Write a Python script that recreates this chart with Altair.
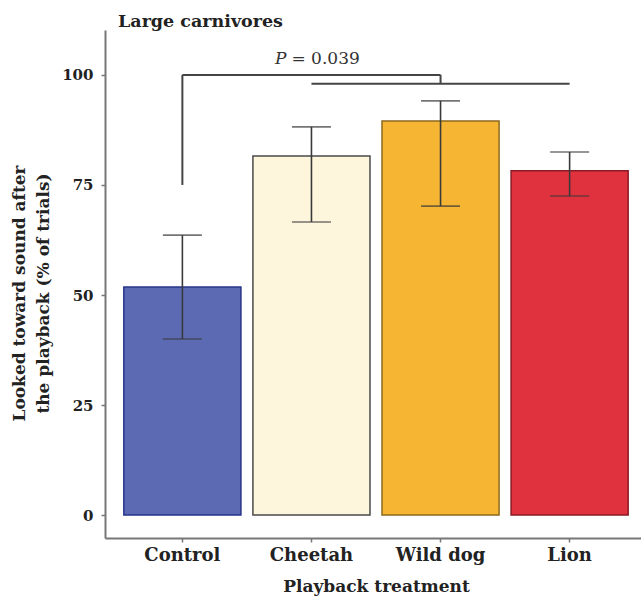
import altair as alt
import pandas as pd

treatments = ["Control", "Cheetah", "Wild dog", "Lion"]
means = [51.8, 81.6, 89.5, 78.2]
lower = [40.0, 66.6, 70.2, 72.5]
upper = [63.6, 88.2, 94.1, 82.5]
fills = ["#5b6ab3", "#fdf6dc", "#f6b634", "#e0313f"]
strokes = ["#27348a", "#4a4a4a", "#8c6a1c", "#8a1a24"]

# significance bracket segments
br_x = ["Control", "Control", "Wild dog", "Cheetah"]
br_x2 = ["Control", "Wild dog", "Wild dog", "Lion"]
br_y = [75, 100, 100, 98]
br_y2 = [100, 100, 98, 98]

p_label_x = ["Cheetah"]
p_label_y = [102.5]

FONT = "DejaVu Serif"

df = pd.DataFrame({"treatment": treatments, "mean": means, "lower": lower, "upper": upper})
br = pd.DataFrame({"x": br_x, "x2": br_x2, "y": br_y, "y2": br_y2})
pt = pd.DataFrame({"x": p_label_x, "y": p_label_y})

xscale = alt.Scale(domain=treatments, paddingInner=0.093, paddingOuter=0.146, range=[0, 542])
yscale = alt.Scale(domain=[-5.2, 110.2], nice=False, zero=False)

xaxis = alt.Axis(
    title="Playback treatment", labelAngle=0, labelFont=FONT, labelFontSize=18,
    labelFontWeight="bold", labelColor="#222", labelPadding=4,
    titleFont=FONT, titleFontSize=17, titleFontWeight="bold", titleColor="#222",
    titlePadding=14, tickColor="#777", tickSize=4, tickWidth=1.5,
    domainColor="#777", domainWidth=2,
)
yaxis = alt.Axis(
    title=["Looked toward sound after", "the playback (% of trials)"],
    values=[0, 25, 50, 75, 100], labelFont=FONT, labelFontSize=15,
    labelFontWeight="bold", labelColor="#222", labelPadding=8,
    titleFont=FONT, titleFontSize=17, titleFontWeight="bold", titleColor="#222",
    titleLineHeight=24, titlePadding=9, titleY=263, tickColor="#777", tickSize=4,
    tickWidth=1.5, domainColor="#777", domainWidth=2, grid=False,
)

base = alt.Chart(df)

bars = base.mark_bar(strokeWidth=1.5).encode(
    x=alt.X("treatment:N", scale=xscale, axis=xaxis, sort=treatments),
    y=alt.Y("mean:Q", scale=yscale, axis=yaxis),
    y2=alt.datum(0),
    color=alt.Color("treatment:N", scale=alt.Scale(domain=treatments, range=fills), legend=None),
    stroke=alt.Stroke("treatment:N", scale=alt.Scale(domain=treatments, range=strokes), legend=None),
)

err = base.mark_rule(color="#3a3a3a", strokeWidth=1.6).encode(
    x=alt.X("treatment:N", scale=xscale, sort=treatments),
    y=alt.Y("lower:Q", scale=yscale),
    y2="upper:Q",
)
cap_lo = base.mark_tick(color="#3a3a3a", thickness=1.6, size=39).encode(
    x=alt.X("treatment:N", scale=xscale, sort=treatments),
    y=alt.Y("lower:Q", scale=yscale),
)
cap_hi = base.mark_tick(color="#3a3a3a", thickness=1.6, size=39).encode(
    x=alt.X("treatment:N", scale=xscale, sort=treatments),
    y=alt.Y("upper:Q", scale=yscale),
)

bracket = alt.Chart(br).mark_rule(color="#444", strokeWidth=2).encode(
    x=alt.X("x:N", scale=xscale, sort=treatments),
    x2="x2:N",
    y=alt.Y("y:Q", scale=yscale),
    y2="y2:Q",
)

p_italic = alt.Chart(pt).mark_text(
    text="P", font=FONT, fontSize=17, fontStyle="italic", align="right",
    baseline="alphabetic", dx=-25, color="#333",
).encode(x=alt.X("x:N", scale=xscale, sort=treatments), y=alt.Y("y:Q", scale=yscale))
p_value = alt.Chart(pt).mark_text(
    text="= 0.039", font=FONT, fontSize=17, align="left",
    baseline="alphabetic", dx=-20, color="#333",
).encode(x=alt.X("x:N", scale=xscale, sort=treatments), y=alt.Y("y:Q", scale=yscale))

chart = alt.layer(bars, err, cap_lo, cap_hi, bracket, p_italic, p_value).properties(
    width=536, height=508,
    title=alt.TitleParams("Large carnivores", anchor="start", frame="group", dx=13, dy=17, offset=3,
                          font=FONT, fontSize=17.5, fontWeight="bold", color="#222",
                          baseline="alphabetic"),
    autosize=alt.AutoSizeParams(type="none"),
    padding={"left": 105, "top": 30, "right": 0, "bottom": 58},
).configure(background="white").configure_view(stroke=None).configure_title(font=FONT)

chart.save("out.html", embed_options={"renderer": "svg", "actions": False})
